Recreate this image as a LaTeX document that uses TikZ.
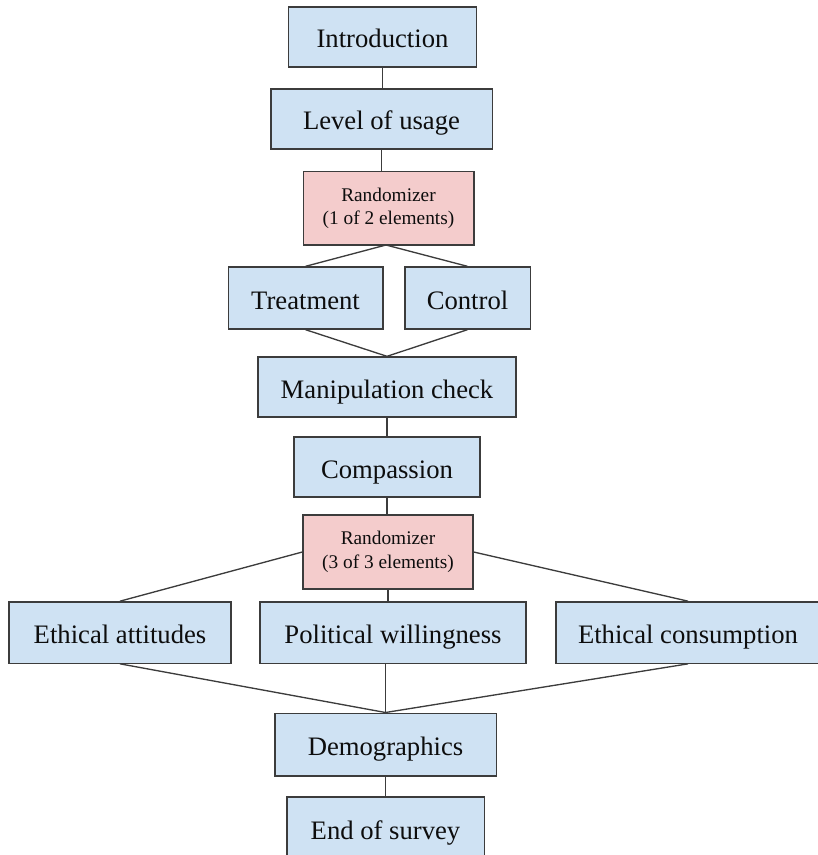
\documentclass[tikz,border=0pt]{standalone}
\usepackage{fontspec}
\setmainfont{Liberation Serif}
\definecolor{boxblue}{HTML}{CFE2F3}
\definecolor{boxpink}{HTML}{F4CCCC}
\definecolor{edge}{HTML}{3C3C3C}
\begin{document}
\begin{tikzpicture}[x=0.75pt,y=-0.75pt,
  basebox/.style={draw=edge,line width=1pt,rectangle,inner sep=0pt,
    text=black!95,align=center},
  box/.style={basebox,fill=boxblue,font=\fontsize{20}{24}\selectfont,
    text height=19pt,text depth=2.5pt},
  rbox/.style={basebox,fill=boxpink,font=\fontsize{14.5}{17.5}\selectfont},
  conn/.style={draw=edge,line width=1pt}]
\useasboundingbox (0,0) rectangle (817,855);
\node[box,minimum width=141pt,minimum height=45pt] (intro) at (382.5,37) {Introduction};
\node[box,minimum width=166pt,minimum height=45pt] (level) at (381.5,119) {Level of usage};
\node[rbox,minimum width=128pt,minimum height=55pt] (rand1) at (388.5,208.5) {Randomizer\\(1 of 2 elements)};
\node[box,minimum width=116pt,minimum height=46.5pt] (treat) at (305.5,298) {Treatment};
\node[box,minimum width=94pt,minimum height=46.5pt] (ctrl) at (467.5,298) {Control};
\node[box,minimum width=193.5pt,minimum height=45pt] (manip) at (387,387) {Manipulation check};
\node[box,minimum width=139.5pt,minimum height=45pt] (comp) at (387,467) {Compassion};
\node[rbox,minimum width=127.5pt,minimum height=55.5pt] (rand2) at (388,552) {Randomizer\\(3 of 3 elements)};
\node[box,minimum width=166.5pt,minimum height=46pt] (ea) at (120,632.5) {Ethical attitudes};
\node[box,minimum width=199.5pt,minimum height=46pt] (pw) at (393,632.5) {Political willingness};
\node[box,minimum width=198pt,minimum height=46pt] (ec) at (688,632.5) {Ethical consumption};
\node[box,minimum width=166pt,minimum height=47pt] (demo) at (385.5,744.5) {Demographics};
\node[box,minimum width=148pt,minimum height=46.5pt] (endsv) at (385.5,828) {End of survey};
\coordinate (r1b) at (386,245);
\draw[conn] (intro.south) -- (intro.south |- level.north);
\draw[conn] (level.south) -- (level.south |- rand1.north);
\draw[conn] (r1b) -- (treat.north);
\draw[conn] (r1b) -- (ctrl.north);
\draw[conn] (treat.south) -- (manip.north);
\draw[conn] (ctrl.south) -- (manip.north);
\draw[conn] (manip.south) -- (comp.north);
\draw[conn] (comp.south) -- (comp.south |- rand2.north);
\draw[conn] (rand2.west) -- (ea.north);
\draw[conn] (rand2.east) -- (ec.north);
\draw[conn] (rand2.south) -- (rand2.south |- pw.north);
\draw[conn] (ea.south) -- (demo.north);
\draw[conn] (ec.south) -- (demo.north);
\draw[conn] (demo.north |- pw.south) -- (demo.north);
\draw[conn] (demo.south) -- (endsv.north);
\end{tikzpicture}
\end{document}
